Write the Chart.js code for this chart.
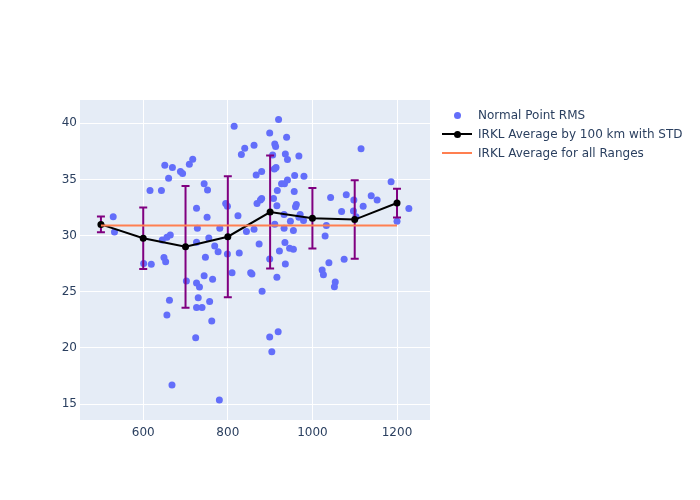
<!DOCTYPE html>
<html><head><meta charset="utf-8">
<script src="https://cdn.jsdelivr.net/npm/chart.js@4.4.0/dist/chart.umd.min.js"></script>
<style>
html,body{margin:0;padding:0;background:#fff;}
#wrap{position:relative;width:700px;height:500px;}
canvas{position:absolute;left:0;top:0;}
.leg{position:absolute;left:442px;height:18px;width:258px;font-family:"DejaVu Sans",sans-serif;font-size:12px;color:#2a3f5f;}
.leg .txt{position:absolute;left:36px;top:0;line-height:18px;white-space:nowrap;}
.leg .ln{position:absolute;left:0;top:8px;width:30px;height:2px;}
.leg .dot{position:absolute;width:7px;height:7px;border-radius:50%;left:11.5px;top:5.5px;}
</style>
</head><body>
<div id="wrap">
<canvas id="c" width="700" height="500"></canvas>
<div class="leg" style="top:106px"><span class="dot" style="background:#636efa"></span><span class="txt">Normal Point RMS</span></div>
<div class="leg" style="top:125px"><span class="ln" style="background:#000"></span><span class="dot" style="background:#000"></span><span class="txt">IRKL Average by 100 km with STD</span></div>
<div class="leg" style="top:144px"><span class="ln" style="background:#ff7f50"></span><span class="txt">IRKL Average for all Ranges</span></div>
</div>
<script>
// Normal point RMS scatter (range km, RMS)
const rmsX = [529,532,601,619,616,643,651,669,688,693,709,717,660,726,815,920,899,939,911,913,862,840,832,936,941,968,906,880,867,910,914,927,934,941,958,980,744,752,917,957,908,880,877,869,795,799,916,962,960,1115,1186,1043,1080,1098,1139,1153,1120,1228,1069,1097,1103,1033,1030,1200,1039,1075,1023,1026,1054,1052,751,824,933,971,968,979,948,911,728,781,844,862,933,955,726,755,769,777,747,799,827,874,922,935,946,955,899,936,810,854,857,744,764,916,702,726,733,881,730,757,726,739,662,645,656,664,649,653,656,724,668,762,899,919,904,780];
const rmsY = [31.69,30.33,27.51,27.45,34.01,34.01,36.27,36.06,35.70,35.53,36.36,36.81,35.12,32.44,39.75,40.34,39.15,38.77,38.17,37.93,38.06,37.79,37.22,37.28,36.77,37.10,37.17,35.70,35.41,35.94,36.06,34.61,34.63,34.96,35.35,35.28,34.63,34.07,34.01,33.92,33.30,33.30,33.18,32.85,32.87,32.62,32.67,32.78,32.58,37.73,34.79,33.39,33.65,33.18,33.54,33.18,32.62,32.42,32.14,32.20,31.69,30.89,29.97,31.28,27.59,27.90,26.94,26.52,25.87,25.45,31.64,31.78,31.87,31.87,31.64,31.34,31.28,31.02,30.66,30.66,30.36,30.57,30.66,30.45,29.41,29.79,29.08,28.57,28.07,28.37,28.46,29.26,28.64,29.38,28.88,28.79,27.92,27.48,26.70,26.70,26.59,26.43,26.11,26.29,25.96,25.78,25.43,25.04,24.47,24.12,23.60,23.60,24.24,29.62,29.86,30.06,28.04,27.68,22.93,20.91,16.69,22.40,20.97,21.44,19.66,15.36];
// Average by 100 km bins with standard deviation
const avgX = [500,600,700,800,900,1000,1100,1200];
const avgY = [31.0,29.77,29.0,29.9,32.1,31.55,31.43,32.9];
const stdY = [0.7,2.74,5.43,5.39,5.03,2.7,3.5,1.28];
// Average for all ranges
const allAvgX = [500,1200];
const allAvgY = [30.9,30.9];
// Tick labels
const xTicks = [600,800,1000,1200];
const yTicks = [15,20,25,30,35,40];

const errorBars = {
  id:'errorBars',
  afterDatasetDraw(chart,args){
    if(args.index!==0) return;
    const {ctx} = chart; const x = chart.scales.x, y = chart.scales.y;
    ctx.save();
    ctx.strokeStyle = '#800080'; ctx.lineWidth = 2;
    avgX.forEach((v,i)=>{
      const px = x.getPixelForValue(v);
      const t = y.getPixelForValue(avgY[i]+stdY[i]);
      const b = y.getPixelForValue(avgY[i]-stdY[i]);
      ctx.beginPath();
      ctx.moveTo(px,t); ctx.lineTo(px,b);
      ctx.moveTo(px-4,t); ctx.lineTo(px+4,t);
      ctx.moveTo(px-4,b); ctx.lineTo(px+4,b);
      ctx.stroke();
    });
    ctx.restore();
  }
};
const plotBg = {
  id:'plotBg',
  beforeDraw(chart){
    const {ctx, chartArea:a} = chart;
    ctx.save(); ctx.fillStyle = '#e5ecf6';
    ctx.fillRect(a.left,a.top,a.right-a.left,a.bottom-a.top);
    ctx.restore();
  }
};

new Chart(document.getElementById('c'), {
  type:'scatter',
  data:{
    datasets:[
      {label:'Normal Point RMS', data: rmsX.map((v,i)=>({x:v,y:rmsY[i]})), backgroundColor:'#636efa', borderWidth:0, pointRadius:3.5, order:3},
      {type:'line', label:'IRKL Average by 100 km with STD', data: avgX.map((v,i)=>({x:v,y:avgY[i]})), borderColor:'#000', backgroundColor:'#000', borderWidth:2, pointRadius:3.5, pointBorderWidth:0, showLine:true, fill:false, order:2},
      {type:'line', label:'IRKL Average for all Ranges', data: allAvgX.map((v,i)=>({x:v,y:allAvgY[i]})), borderColor:'#ff7f50', borderWidth:2, pointRadius:0, showLine:true, fill:false, order:1}
    ]
  },
  options:{
    responsive:false, animation:false,
    layout:{padding:{top:100,right:270,left:0,bottom:0}},
    plugins:{legend:{display:false}, tooltip:{enabled:false}},
    scales:{
      x:{type:'linear', min:450.5, max:1278,
        afterBuildTicks:s=>{s.ticks = xTicks.map(v=>({value:v}));},
        afterFit:s=>{s.height = 80;},
        grid:{color:'#fff', lineWidth:1, drawTicks:false}, border:{display:false},
        ticks:{padding:6, color:'#2a3f5f', font:{family:'DejaVu Sans', size:12}, callback:v=>String(v)}},
      y:{type:'linear', min:13.575, max:42.08,
        afterBuildTicks:s=>{s.ticks = yTicks.map(v=>({value:v}));},
        afterFit:s=>{s.width = 80;},
        grid:{color:'#fff', lineWidth:1, drawTicks:false}, border:{display:false},
        ticks:{padding:3, color:'#2a3f5f', font:{family:'DejaVu Sans', size:12}, callback:v=>String(v)}}
    }
  },
  plugins:[plotBg, errorBars]
});
</script>
</body></html>
